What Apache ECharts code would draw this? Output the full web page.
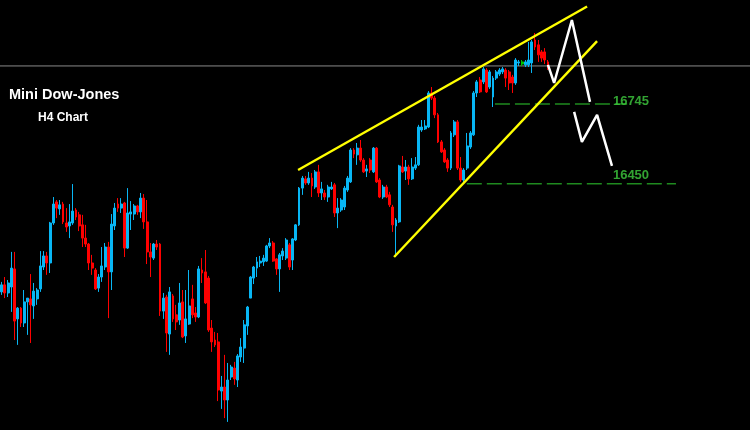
<!DOCTYPE html>
<html>
<head>
<meta charset="utf-8">
<script src="https://cdn.jsdelivr.net/npm/echarts@6/dist/echarts.min.js"></script>
<style>
html,body{margin:0;padding:0;background:#000;}
#chart{width:750px;height:430px;}
</style>
</head>
<body>
<div id="chart"></div>
<script>
// ---- data ----
const barCount = 232; // slots on the time axis (candles + empty space to the right)
const categories = Array.from({length: barCount}, (_, i) => String(i + 1));

// [open, close, low, high]
const ohlc = [
[16050,16076,16039,16087],[16076,16046,16027,16105],[16046,16083,16031,16094],[16068,16138,15976,16198],
[16135,15942,15872,16198],[15950,15990,15854,15994],[15990,15935,15920,15994],[15935,16013,15920,16057],
[16013,16027,15891,16027],[16024,16002,15861,16116],[15998,16053,15950,16083],[16024,16057,16002,16064],
[16061,16146,16050,16201],[16142,16183,16131,16201],[16183,16157,16113,16198],[16157,16305,16120,16309],
[16305,16375,16298,16401],[16383,16360,16323,16390],[16357,16372,16335,16390],[16375,16309,16301,16383],
[16305,16290,16272,16360],[16294,16309,16249,16375],[16305,16349,16298,16449],[16353,16327,16316,16360],
[16335,16294,16275,16346],[16298,16249,16216,16335],[16249,16227,16216,16298],[16227,16157,16131,16231],
[16157,16138,16113,16187],[16131,16061,16057,16138],[16064,16105,16050,16116],[16105,16146,16087,16216],
[16142,16216,16131,16231],[16216,16124,15953,16235],[16124,16301,16057,16338],[16294,16360,16279,16379],
[16375,16360,16346,16397],[16360,16375,16342,16397],[16379,16212,16179,16383],[16212,16342,16209,16434],
[16338,16346,16279,16386],[16338,16368,16316,16375],[16368,16346,16335,16372],[16346,16397,16323,16416],
[16397,16309,16283,16412],[16309,16198,16153,16390],[16198,16179,16105,16231],[16175,16227,16168,16231],
[16227,16216,16205,16242],[16227,15979,15961,16231],[15979,16027,15950,16046],[16031,15898,15828,16039],
[15894,16050,15817,16068],[16035,15950,15939,16042],[15965,15939,15909,16002],[15946,16009,15928,16083],
[16013,15883,15879,16057],[15887,15950,15861,16057],[15931,15998,15928,16131],[16024,15965,15953,16076],
[15972,15957,15939,15994],[15957,16135,15953,16146],[16131,16120,16083,16175],[16124,16009,16005,16205],
[16101,15909,15902,16109],[15916,15865,15828,15946],[15872,15854,15846,15902],[15865,15687,15646,15898],
[15683,15698,15617,15739],[15698,15650,15583,15817],[15650,15724,15569,15787],[15735,15772,15724,15780],
[15768,15728,15706,15791],[15724,15813,15698,15820],[15809,15846,15791,15879],[15842,15928,15787,15946],
[15924,15994,15891,15998],[16027,16105,16027,16109],[16101,16142,16079,16146],[16138,16161,16105,16179],
[16157,16164,16142,16183],[16161,16175,16146,16187],[16164,16220,16161,16224],[16220,16231,16212,16249],
[16231,16164,16161,16238],[16172,16135,16113,16175],[16135,16187,16050,16194],[16183,16201,16168,16212],
[16175,16242,16168,16249],[16224,16142,16131,16231],[16168,16246,16131,16249],[16242,16298,16238,16301],
[16298,16434,16294,16438],[16434,16471,16409,16479],[16468,16453,16446,16479],[16453,16471,16446,16494],
[16471,16442,16401,16490],[16438,16494,16431,16501],[16494,16416,16401,16520],[16416,16431,16390,16457],
[16416,16401,16390,16427],[16401,16438,16383,16446],[16431,16438,16427,16457],[16446,16342,16327,16453],
[16342,16360,16286,16397],[16353,16390,16346,16397],[16364,16434,16353,16442],[16427,16471,16420,16479],
[16457,16575,16453,16582],[16575,16560,16545,16582],[16557,16582,16520,16601],[16582,16538,16531,16612],
[16538,16494,16490,16545],[16497,16505,16475,16520],[16538,16501,16490,16545],[16494,16582,16490,16586],
[16582,16457,16453,16586],[16464,16401,16397,16471],[16401,16438,16394,16446],[16438,16401,16397,16446],
[16409,16372,16364,16420],[16364,16298,16272,16372],[16294,16316,16179,16323],[16309,16516,16305,16520],
[16512,16494,16490,16553],[16497,16512,16464,16538],[16512,16468,16446,16520],[16468,16512,16464,16545],
[16508,16520,16501,16549],[16520,16660,16516,16668],[16649,16660,16642,16686],[16653,16664,16649,16686],
[16660,16786,16656,16793],[16786,16767,16760,16808],[16767,16705,16693,16775],[16705,16605,16601,16712],
[16605,16568,16564,16612],[16575,16531,16527,16582],[16538,16508,16494,16545],[16508,16638,16501,16645],
[16631,16679,16623,16686],[16679,16508,16501,16686],[16508,16464,16457,16549],[16464,16501,16453,16508],
[16508,16590,16501,16638],[16586,16638,16579,16645],[16631,16786,16627,16793],[16786,16827,16771,16834],
[16834,16790,16786,16845],[16827,16875,16819,16882],[16871,16790,16786,16878],[16808,16864,16801,16871],
[16771,16841,16734,16849],[16841,16864,16834,16871],[16856,16871,16849,16878],[16864,16875,16856,16882],
[16871,16841,16808,16878],[16864,16823,16797,16871],[16845,16823,16786,16853],[16823,16908,16816,16915],
[16897,16901,16886,16908],[16893,16901,16886,16908],[16890,16901,16882,16908],[16890,16908,16882,16975],
[16897,16975,16860,16982],[16982,16956,16945,17008],[16964,16927,16901,16982],[16938,16915,16901,16945],
[16938,16908,16893,16952],[16901,16878,16871,16908]
];
const markedBar = 161; // bar drawn in green (current bar marker)

// channel lines: [bar index, price]
const upperChannel = [[91.7, 16501], [181.1, 17106]];
const lowerChannel = [[121.4, 16179], [184.2, 16978]];
// projected path (white)
const projection1 = [[169.0, 16890], [170.9, 16823], [176.4, 17056], [182.0, 16753]];
const projection2 = [[177.1, 16716], [179.5, 16605], [184.2, 16705], [188.8, 16516]];
// target levels
const levelValues = [16745, 16450];
const levelStart = [152.6, 143.9];
const levelEnd = [193.5, 208.6];
const levelLabelPos = 189.1;
const levelLabelOffset = [-3, -8];
const lastPrice = 16886;

const titleText = 'Mini Dow-Jones';
const subTitleText = 'H4 Chart';

// ---- chart ----
const up = '#08b6f4', down = '#ff0000', green = '#00c400';
const candleData = ohlc.map((d, i) => i === markedBar
  ? {value: d, itemStyle: {color: green, color0: green, borderColor: green, borderColor0: green}}
  : d);

const series = [
  {
    type: 'candlestick', xAxisIndex: 0, yAxisIndex: 0,
    data: candleData, barWidth: 2.4,
    itemStyle: {color: up, color0: down, borderColor: up, borderColor0: down, borderWidth: 1}
  },
  {
    type: 'line', xAxisIndex: 1, yAxisIndex: 0, symbol: 'none', z: 1,
    data: [[-0.5, lastPrice], [barCount - 0.5, lastPrice]],
    lineStyle: {color: '#8a8a8a', width: 1}
  }
];
[upperChannel, lowerChannel].forEach(d => series.push({
  type: 'line', xAxisIndex: 1, yAxisIndex: 0, symbol: 'none', z: 5, data: d,
  lineStyle: {color: '#ffff00', width: 2.4}
}));
[projection1, projection2].forEach(d => series.push({
  type: 'line', xAxisIndex: 1, yAxisIndex: 0, symbol: 'none', z: 6, data: d,
  lineStyle: {color: '#ffffff', width: 2.5}
}));
levelValues.forEach((v, i) => {
  series.push({
    type: 'line', xAxisIndex: 1, yAxisIndex: 0, symbol: 'none', z: 4,
    data: [[levelStart[i], v], [levelEnd[i], v]],
    lineStyle: {color: '#1f8a1f', width: 1.5, type: [15, 5]}
  });
  series.push({
    type: 'scatter', xAxisIndex: 1, yAxisIndex: 0, symbolSize: 0, z: 7,
    data: [{value: [levelLabelPos, v], name: String(v)}],
    label: {show: true, position: 'right', distance: 0, offset: [0, levelLabelOffset[i]],
      formatter: '{b}', color: '#3ecc3e', fontSize: 13, fontWeight: 'bold',
      fontFamily: 'Liberation Sans, Arial, sans-serif'}
  });
});

const chart = echarts.init(document.getElementById('chart'));
chart.setOption({
  backgroundColor: '#000000',
  animation: false,
  grid: {left: 0, right: 0, top: 0, bottom: 0},
  xAxis: [
    {type: 'category', data: categories, show: false, boundaryGap: true},
    {type: 'value', min: -0.5, max: barCount - 0.5, show: false}
  ],
  yAxis: [{type: 'value', min: 15539, max: 17130, show: false, splitLine: {show: false}}],
  series: series,
  graphic: [
    {type: 'text', left: 9, top: 87, style: {text: titleText, fill: '#ffffff',
      font: 'bold 14.5px "Liberation Sans", Arial, sans-serif'}},
    {type: 'text', left: 38, top: 112, style: {text: subTitleText, fill: '#ffffff',
      font: 'bold 12px "Liberation Sans", Arial, sans-serif'}}
  ]
});
</script>
</body>
</html>
